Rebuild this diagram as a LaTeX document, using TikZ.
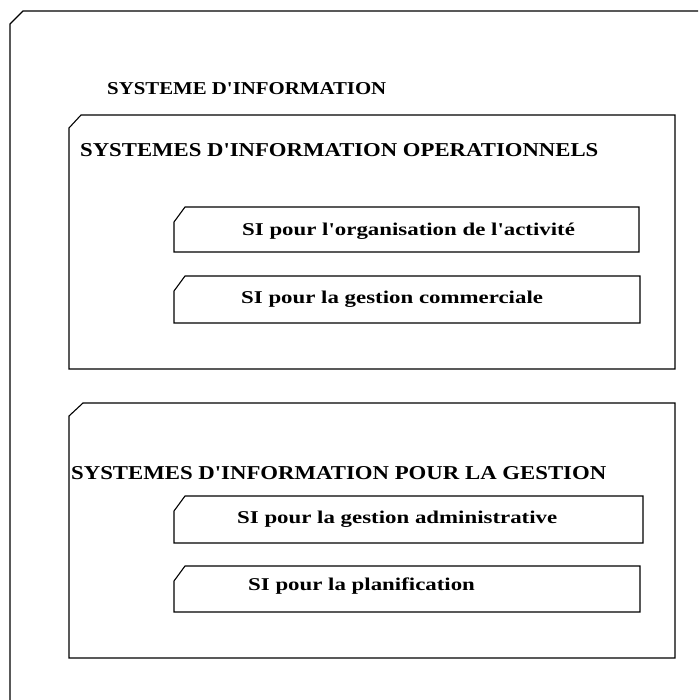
\documentclass[tikz,border=0pt]{standalone}
\usepackage{fontspec}
\setmainfont{Liberation Serif}
\newcommand\chambox[6]{%
  \draw[frame] (#1,#2+#6) -- (#1+#5,#2) -- (#3,#2) -- (#3,#4) -- (#1,#4) -- cycle;}
\tikzset{
  frame/.style={draw=black, line width=1.1pt, line join=miter},
  hdr/.style={anchor=base west, inner sep=0pt, font=\bfseries},
  lbl/.style={anchor=base west, inner sep=0pt, font=\fontsize{18}{21}\selectfont\bfseries},
}
\newcommand\wide[1]{\scalebox{1.27}[1]{#1}}
\newcommand\ap{\textquotesingle}
\begin{document}
\begin{tikzpicture}[x=1pt,y=-1pt]
  \useasboundingbox (0,0) rectangle (698,700);
  % outer frame (runs off the right and bottom edges)
  \draw[frame] (698,11) -- (23,11) -- (10,24) -- (10,700);
  \node[hdr] (title) at (107,95) {\resizebox{279pt}{12pt}{SYSTEME D\ap INFORMATION}};
  % operational systems
  \chambox{69}{115}{675}{369}{12}{13}
  \node[hdr] (op) at (80,157) {\resizebox{518pt}{13pt}{SYSTEMES D\ap INFORMATION OPERATIONNELS}};
  \chambox{174}{207}{639}{252}{11}{15}
  \node[lbl] (a) at (242,236) {\wide{SI pour l\ap organisation de l\ap activité}};
  \chambox{174}{276}{640}{323}{11}{15}
  \node[lbl] (b) at (241,303) {\wide{SI pour la gestion commerciale}};
  % management systems
  \chambox{69}{403}{675}{658}{14}{13}
  \node[hdr] (ge) at (71,479) {\resizebox{535pt}{13pt}{SYSTEMES D\ap INFORMATION POUR LA GESTION}};
  \chambox{174}{496}{643}{543}{11}{15}
  \node[lbl] (c) at (237,523) {\wide{SI pour la gestion administrative}};
  \chambox{174}{566}{640}{612}{11}{15}
  \node[lbl] (d) at (248,590) {\wide{SI pour la planification}};
\end{tikzpicture}
\end{document}
